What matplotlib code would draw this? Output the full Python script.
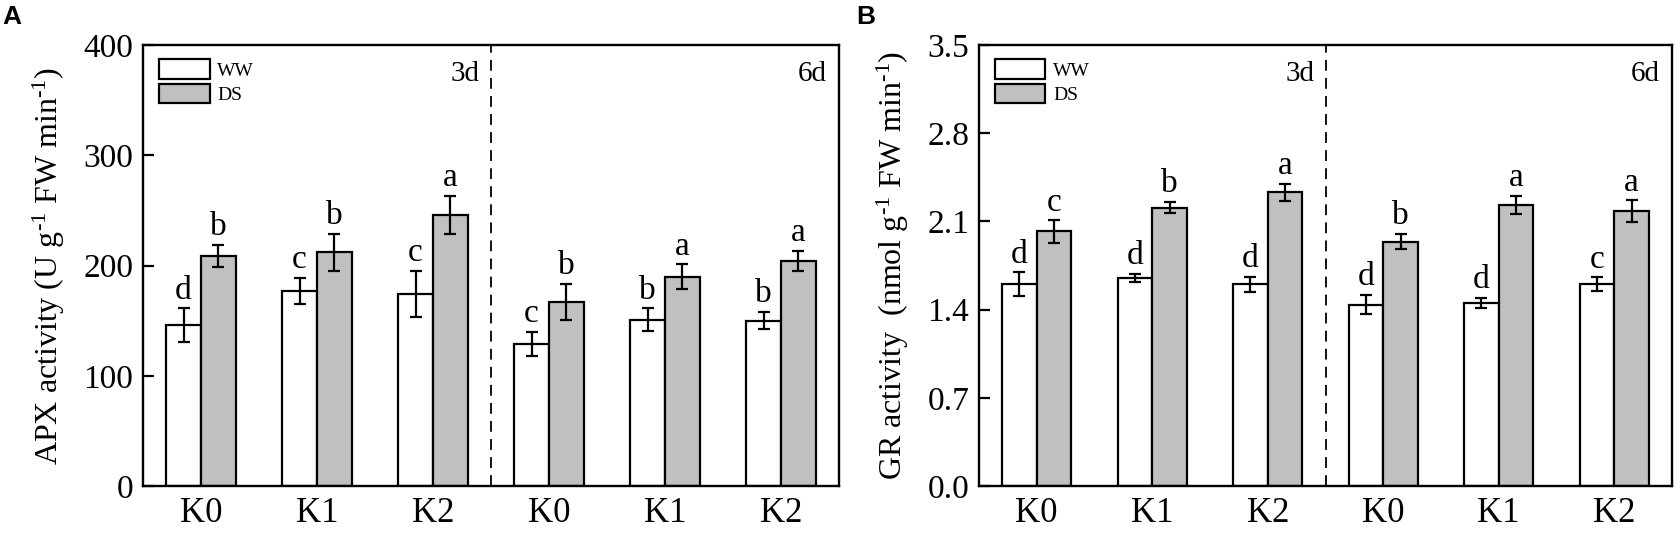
import matplotlib
matplotlib.use("Agg")
import matplotlib.pyplot as plt
import numpy as np
from matplotlib.patches import Patch

plt.rcParams['font.family'] = ['Liberation Serif', 'DejaVu Serif']
plt.rcParams['mathtext.fontset'] = 'custom'
plt.rcParams['mathtext.rm'] = 'Liberation Serif'
plt.rcParams['mathtext.it'] = 'Liberation Serif:italic'
plt.rcParams['mathtext.default'] = 'regular'

# ---------------- data ----------------
groups = ["K0", "K1", "K2", "K0", "K1", "K2"]
series = ["WW", "DS"]
periods = ["3d", "6d"]

apx_ww = [146, 177, 174, 129, 151, 150]
apx_ww_err = [15, 12, 21, 11, 10, 8]
apx_ds = [209, 212, 246, 167, 190, 204]
apx_ds_err = [10, 17, 17, 16, 11, 9]
apx_ww_letters = ["d", "c", "c", "c", "b", "b"]
apx_ds_letters = ["b", "b", "a", "b", "a", "a"]

gr_ww = [1.60, 1.65, 1.60, 1.44, 1.45, 1.60]
gr_ww_err = [0.096, 0.034, 0.062, 0.074, 0.041, 0.056]
gr_ds = [2.02, 2.21, 2.33, 1.94, 2.23, 2.18]
gr_ds_err = [0.088, 0.042, 0.067, 0.062, 0.072, 0.087]
gr_ww_letters = ["d", "d", "d", "d", "d", "c"]
gr_ds_letters = ["c", "b", "a", "b", "a", "a"]

apx_yticks = [0, 100, 200, 300, 400]
gr_yticks = [0.0, 0.7, 1.4, 2.1, 2.8, 3.5]

colors = ["white", "#c0c0c0"]

W, H = 1677, 556
fig = plt.figure(figsize=(W / 100, H / 100), dpi=100)

def px_axes(l, r, t, b):
    return fig.add_axes([l / W, (H - b) / H, (r - l) / W, (b - t) / H])

axA = px_axes(143, 839, 45, 486)
axB = px_axes(979, 1672, 45, 486)

def draw(ax, ww, wwe, ds, dse, wwl, dsl, yticks, ylabel, fmt):
    x = np.arange(len(groups)) + 0.5
    bw = 0.3
    lw = 1.6
    ek = dict(elinewidth=1.6, capthick=1.6, ecolor="black", capsize=4.5)
    ax.bar(x - bw / 2, ww, bw, color=colors[0], edgecolor="black", linewidth=lw,
           yerr=wwe, error_kw=ek, label=series[0], zorder=2)
    ax.bar(x + bw / 2, ds, bw, color=colors[1], edgecolor="black", linewidth=lw,
           yerr=dse, error_kw=ek, label=series[1], zorder=2)
    for xi, v, e, t in zip(x - bw / 2, ww, wwe, wwl):
        ax.annotate(t, (xi, v + e), xytext=(0, 2), textcoords="offset points",
                    ha="center", va="bottom", fontsize=24)
    for xi, v, e, t in zip(x + bw / 2, ds, dse, dsl):
        ax.annotate(t, (xi, v + e), xytext=(0, 2), textcoords="offset points",
                    ha="center", va="bottom", fontsize=24)
    ax.set_xlim(0, len(groups))
    ax.set_ylim(yticks[0], yticks[-1])
    ax.set_yticks(yticks)
    ax.set_yticklabels([fmt.format(v) for v in yticks])
    ax.set_xticks(x)
    ax.set_xticklabels(groups)
    ax.tick_params(axis="y", direction="in", length=8, width=1.6, labelsize=24, pad=7)
    ax.tick_params(axis="x", direction="in", length=2.5, width=1.6, labelsize=25, pad=8)
    for s in ax.spines.values():
        s.set_linewidth(1.7)
    ax.axvline(3, color="black", linestyle=(0, (6, 4)), linewidth=1.3, zorder=1)
    ax.text(0.484, 0.935, periods[0], transform=ax.transAxes, ha="right", va="center", fontsize=21)
    ax.text(0.982, 0.935, periods[1], transform=ax.transAxes, ha="right", va="center", fontsize=21)
    ax.set_ylabel(ylabel, fontsize=23, labelpad=12)
    handles = [Patch(facecolor=c, edgecolor="black", linewidth=1.6) for c in colors]
    ax.legend(handles, series, loc="upper left", bbox_to_anchor=(0.023, 0.968),
              frameon=False, fontsize=14, handlelength=2.6, handleheight=1.2,
              labelspacing=0.2, handletextpad=0.4, borderpad=0, borderaxespad=0)

draw(axA, apx_ww, apx_ww_err, apx_ds, apx_ds_err, apx_ww_letters, apx_ds_letters,
     apx_yticks, r"APX activity (U g$^{\text{-}1}$ FW min$^{\text{-}1}$)", "{:d}")
draw(axB, gr_ww, gr_ww_err, gr_ds, gr_ds_err, gr_ww_letters, gr_ds_letters,
     gr_yticks, r"GR activity  (nmol g$^{\text{-}1}$ FW min$^{\text{-}1}$)", "{:.1f}")

fig.text(2 / W, 1 - 24 / H, "A", fontsize=19, fontweight="bold", family="Liberation Sans")
fig.text(856 / W, 1 - 24 / H, "B", fontsize=19, fontweight="bold", family="Liberation Sans")

fig.savefig("out.png", dpi=100)
